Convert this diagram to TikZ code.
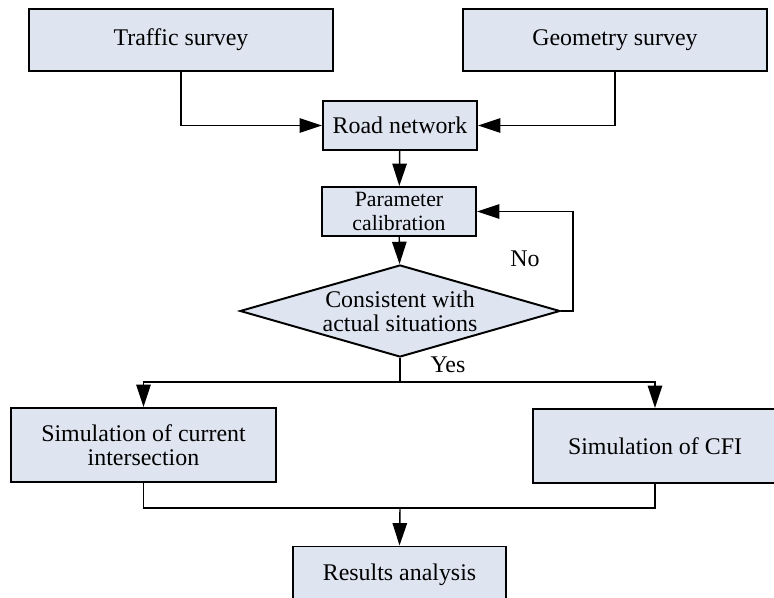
\documentclass[tikz,border=0pt]{standalone}
\usepackage{fontspec}
\setmainfont{Liberation Serif}
\definecolor{BOXFILL}{HTML}{DEE4F0}
\usetikzlibrary{shapes.geometric,arrows.meta}

\begin{document}
\begin{tikzpicture}[
  x=0.025cm, y=-0.025cm,
  %% Process boxes
  pbox/.style={
    draw=black, fill=BOXFILL, rectangle, line width=1.4pt,
    align=center, font=\fontsize{17}{17.2}\selectfont, inner sep=2pt
  },
  %% Decision diamond
  dbox/.style={
    draw=black, fill=BOXFILL, diamond, aspect=3.48, line width=1.4pt,
    align=center, font=\fontsize{17}{17.2}\selectfont, inner sep=0pt,
    minimum width=8cm, minimum height=2.3cm
  },
  lin/.style={line width=1pt, black},
  arr/.style={lin, -{Triangle[length=5.6mm, width=3.6mm]}},
  lbl/.style={font=\fontsize{17}{17.2}\selectfont}
]

\clip (0,0) rectangle (774,597);

%% -- Survey boxes --------------------------------------------
\node[pbox, minimum width=7.6cm, minimum height=1.55cm] (traffic)  at (181,40) {Traffic survey};
\node[pbox, minimum width=7.6cm, minimum height=1.55cm] (geometry) at (615,40) {Geometry survey};

%% -- Main column ---------------------------------------------
\node[pbox, minimum width=3.85cm, minimum height=1.225cm] (road)  at (400,125.5) {Road network};
\node[pbox, minimum width=3.85cm, minimum height=1.225cm, inner ysep=0pt,
      font=\fontsize{15.5}{17.3}\selectfont] (param) at (399,211.5) {Parameter\\calibration};
\node[dbox] (check) at (400,311) {Consistent with\\actual situations};

%% -- Simulation boxes ----------------------------------------
\node[pbox, minimum width=6.625cm, minimum height=1.85cm] (simcur) at (143.5,445) {Simulation of current\\intersection};
\node[pbox, minimum width=6.1cm, minimum height=1.85cm] (simcfi) at (655,446) {Simulation of CFI};
\node[pbox, minimum width=5.325cm, minimum height=1.6cm, text depth=0.3cm,
      anchor=north] (results) at (399.5,545.5) {Results analysis};

\coordinate (noturn) at (573,311);
\coordinate (split)  at (400,382);
\coordinate (merge)  at (400,508);

%% -- Connectors ----------------------------------------------
\draw[arr] (traffic.south)  |- (road.west);
\draw[arr] (geometry.south) |- (road.east);
\draw[arr] (road) -- (param);
\draw[arr] (param) -- (check);
\draw[arr] (check.east) -- (noturn) |- (param.east);
\node[lbl] (no) at (525,259) {No};

\draw[lin] (check.south) -- (split);
\draw[arr] (split) -| (simcur.north);
\draw[arr] (split) -| (simcfi.north);
\node[lbl] (yes) at (448,365) {Yes};

\draw[lin] (simcur.south) |- (merge);
\draw[lin] (simcfi.south) |- (merge);
\draw[arr] (merge) -- (results.north);

\end{tikzpicture}
\end{document}
